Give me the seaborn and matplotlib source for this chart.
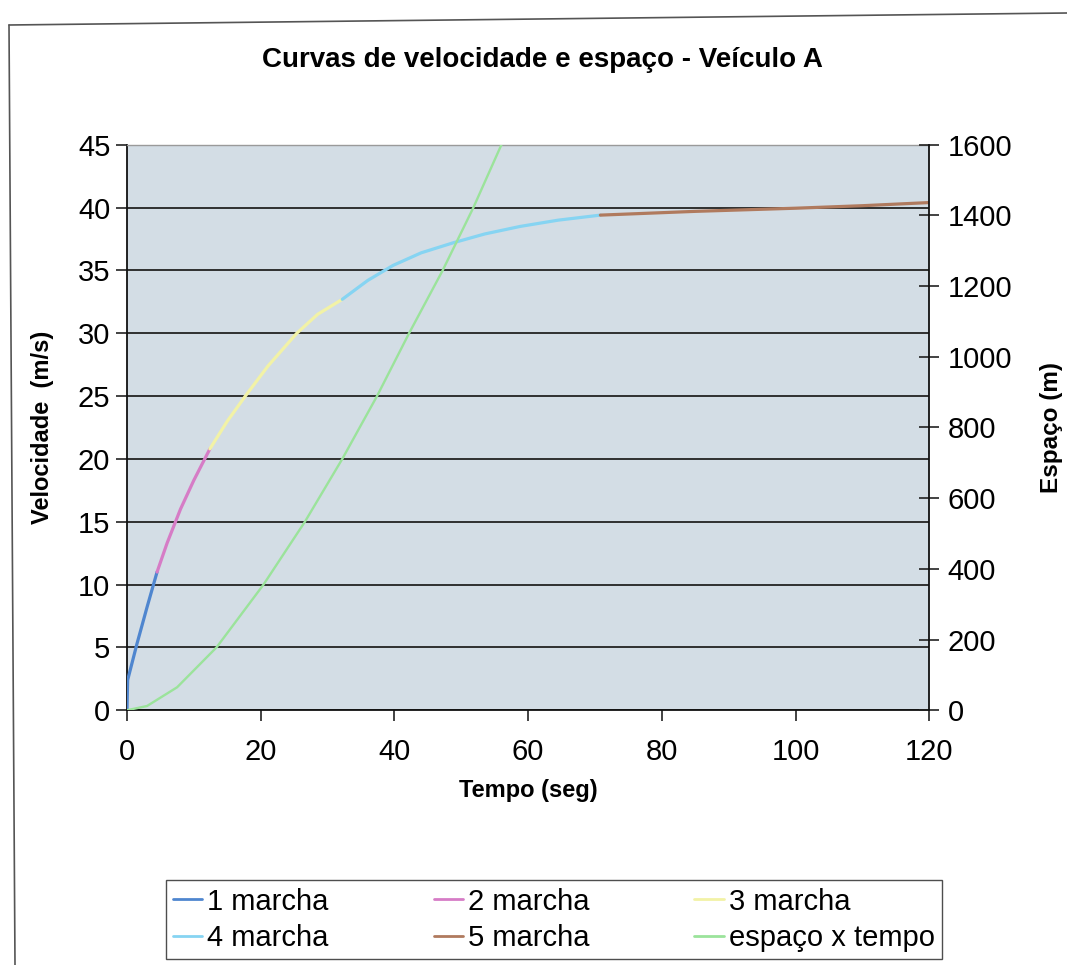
import matplotlib
matplotlib.use("Agg")
import matplotlib.pyplot as plt
from matplotlib.lines import Line2D
import seaborn as sns
import pandas as pd

# Velocity per gear (time in s, velocity in m/s)
t_g1 = [0.0, 0.1, 1.5, 3.0, 4.5]
v_g1 = [0.0, 2.4, 5.3, 8.2, 11.0]
t_g2 = [4.5, 6.0, 8.0, 10.0, 12.4]
v_g2 = [11.0, 13.3, 16.0, 18.3, 20.8]
t_g3 = [12.4, 15.0, 17.7, 21.1, 25.4, 28.5, 32.2]
v_g3 = [20.8, 23.0, 25.0, 27.4, 30.0, 31.5, 32.7]
t_g4 = [32.2, 36.0, 39.8, 44.0, 48.8, 53.5, 58.8, 64.5, 70.8]
v_g4 = [32.7, 34.2, 35.4, 36.4, 37.2, 37.9, 38.5, 39.0, 39.4]
t_g5 = [70.8, 85.0, 100.0, 110.0, 120.0]
v_g5 = [39.4, 39.7, 39.95, 40.15, 40.4]

# Distance covered (time in s, distance in m)
t_dist = [0.0, 3.0, 7.5, 13.4, 20.4, 26.6, 32.2, 37.4, 42.2, 47.2, 51.8, 56.0, 58.0]
s_dist = [0.0, 12.0, 65.0, 178.0, 355.0, 533.0, 711.0, 889.0, 1067.0, 1244.0, 1422.0, 1600.0, 1690.0]

gear_labels = ["1 marcha", "2 marcha", "3 marcha", "4 marcha", "5 marcha"]
dist_label = "espaço x tempo"
gear_colors = ["#4f86cf", "#d67cc6", "#f2f2a6", "#86d4f2", "#b07a5e"]
dist_color = "#9be39b"

x_ticks = [0, 20, 40, 60, 80, 100, 120]
v_ticks = [0, 5, 10, 15, 20, 25, 30, 35, 40, 45]
s_ticks = [0, 200, 400, 600, 800, 1000, 1200, 1400, 1600]

sns.set_theme(style="white")
plt.rcParams["font.family"] = ["Liberation Sans", "DejaVu Sans"]
for key in ["text.color", "axes.labelcolor", "xtick.color", "ytick.color"]:
    plt.rcParams[key] = "black"

W, H = 1067.0, 965.0
fig = plt.figure(figsize=(10.67, 9.65), dpi=100)
ax = fig.add_axes([0.119, 0.264, 0.752, 0.586])
ax.set_facecolor("#d3dde5")

gears = [(t_g1, v_g1), (t_g2, v_g2), (t_g3, v_g3), (t_g4, v_g4), (t_g5, v_g5)]
for (t, v), lab, col in zip(gears, gear_labels, gear_colors):
    df = pd.DataFrame({"t": t, "v": v})
    sns.lineplot(data=df, x="t", y="v", ax=ax, color=col, lw=2.3,
                 sort=False, estimator=None, zorder=4)

ax.set_xlim(0, 120)
ax.set_ylim(0, 45)
ax.set_xticks(x_ticks)
ax.set_yticks(v_ticks)
ax.yaxis.grid(True, color="#222222", lw=1.3)
ax.xaxis.grid(False)
ax.set_axisbelow(True)
for side in ["left", "bottom"]:
    ax.spines[side].set_color("#111111")
    ax.spines[side].set_linewidth(1.3)
ax.spines["top"].set_color("#9a9a9a")
ax.spines["top"].set_linewidth(1.0)
ax.spines["right"].set_visible(False)
ax.tick_params(axis="both", which="both", direction="out", length=8, width=1.2,
               color="#222222", labelsize=21, left=True, bottom=True)
ax.tick_params(axis="y", pad=4)
ax.tick_params(axis="x", pad=12)
ax.set_xlabel("Tempo (seg)", fontsize=17, fontweight="bold", labelpad=9)
ax.set_ylabel("Velocidade  (m/s)", fontsize=17, fontweight="bold", labelpad=17)
fig.text(542 / W, 1 - 60 / H, "Curvas de velocidade e espaço - Veículo A",
         fontsize=20, fontweight="bold", ha="center", va="center")

ax2 = ax.twinx()
df_s = pd.DataFrame({"t": t_dist, "s": s_dist})
sns.lineplot(data=df_s, x="t", y="s", ax=ax2, color=dist_color, lw=1.7,
             sort=False, estimator=None, zorder=3)
ax2.set_ylim(0, 1600)
ax2.set_yticks(s_ticks)
ax2.set_xlim(0, 120)
for side in ["left", "top", "bottom"]:
    ax2.spines[side].set_visible(False)
ax2.spines["right"].set_color("#111111")
ax2.spines["right"].set_linewidth(1.3)
ax2.tick_params(axis="y", direction="inout", length=14, width=1.2,
                color="#222222", labelsize=21, pad=6, right=True)
ax2.set_ylabel("Espaço (m)", fontsize=17.5, fontweight="bold", labelpad=20)
ax2.set_xlabel("")

# Legend in row order: gears 1-3 on top, then 4, 5 and distance
h = [Line2D([], [], color=c, lw=2) for c in gear_colors] + \
    [Line2D([], [], color=dist_color, lw=2)]
labels = gear_labels + [dist_label]
order = [0, 3, 1, 4, 2, 5]
leg = fig.legend([h[i] for i in order], [labels[i] for i in order], ncol=3,
                 loc="lower left", bbox_to_anchor=(166 / W, 1 - 959 / H),
                 fontsize=21, frameon=True, fancybox=False,
                 edgecolor="#222222", handlelength=1.0, handletextpad=0.17,
                 columnspacing=3.6, borderaxespad=0.0, labelspacing=0.28,
                 borderpad=0.25)
leg.get_frame().set_linewidth(1.0)

# Outer chart border (top and left edges)
fig.add_artist(Line2D([9 / W, 1.0], [1 - 25 / H, 1 - 13 / H],
                      transform=fig.transFigure, color="#555555", lw=1.2))
fig.add_artist(Line2D([9 / W, 15 / W], [1 - 25 / H, 0.0],
                      transform=fig.transFigure, color="#555555", lw=1.2))

fig.savefig("out.png", dpi=100, facecolor="white")
